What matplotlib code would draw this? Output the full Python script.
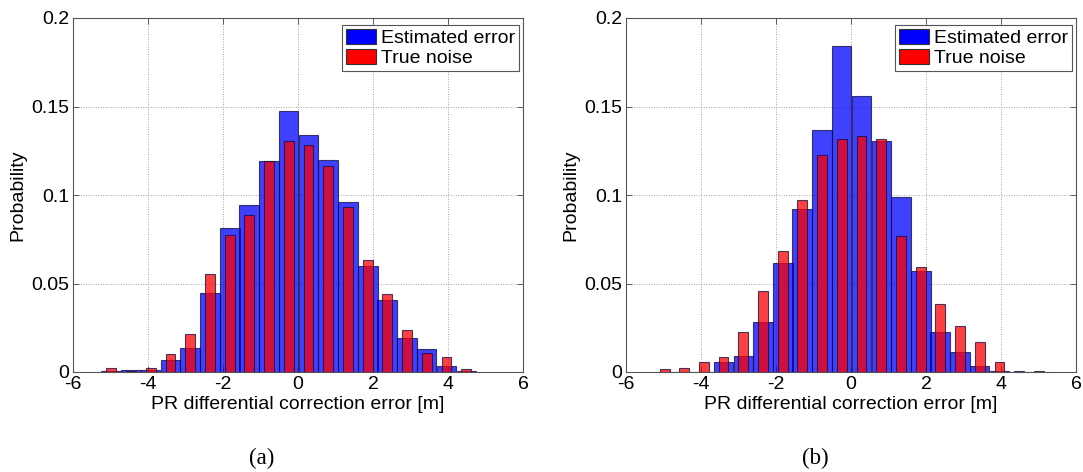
import matplotlib
matplotlib.use("Agg")
import matplotlib.pyplot as plt
from matplotlib.patches import Patch

plt.rcParams['font.family'] = ['Liberation Sans', 'DejaVu Sans']

# ---- data (a) ----
centers_a = [-4.98, -4.45, -3.93, -3.40, -2.88, -2.35, -1.82, -1.30, -0.77, -0.25,
             0.28, 0.80, 1.33, 1.86, 2.38, 2.91, 3.43, 3.96, 4.49]
est_a = [0.0008, 0.0013, 0.0013, 0.0070, 0.0138, 0.0446, 0.0813, 0.0943, 0.1193, 0.1476,
         0.1340, 0.1199, 0.0958, 0.0597, 0.0405, 0.0191, 0.0132, 0.0034, 0.0008]
true_a = [0.0021, 0.0008, 0.0021, 0.0104, 0.0216, 0.0554, 0.0773, 0.0885, 0.1193, 0.1304,
          0.1282, 0.1166, 0.0934, 0.0631, 0.0440, 0.0240, 0.0110, 0.0087, 0.0019]

# ---- data (b) ----
centers_b = [-4.97, -4.45, -3.92, -3.40, -2.87, -2.35, -1.82, -1.30, -0.77, -0.25,
             0.28, 0.81, 1.33, 1.86, 2.38, 2.91, 3.43, 3.96, 4.48, 5.01]
est_b = [0.0, 0.0, 0.0, 0.0059, 0.0091, 0.0284, 0.0617, 0.0920, 0.1369, 0.1841,
         0.1559, 0.1307, 0.0989, 0.0570, 0.0225, 0.0114, 0.0034, 0.0004, 0.0, 0.0]
true_b = [0.0015, 0.0023, 0.0059, 0.0085, 0.0225, 0.0455, 0.0682, 0.0972, 0.1227, 0.1318,
          0.1331, 0.1318, 0.0771, 0.0593, 0.0386, 0.0261, 0.0170, 0.0059, 0.0008, 0.0008]

bin_width = 0.526
x_ticks = [-6, -4, -2, 0, 2, 4, 6]
y_ticks = [0, 0.05, 0.1, 0.15, 0.2]
y_tick_labels = ['0', '0.05', '0.1', '0.15', '0.2']
series_names = ['Estimated error', 'True noise']
xlabel = 'PR differential correction error [m]'
ylabel = 'Probability'
panel_labels = ['(a)', '(b)']

W, H = 1083, 472
fig = plt.figure(figsize=(W / 100, H / 100), dpi=100)

axes_px = [(73, 18, 523, 372), (626, 18, 1076, 372)]
data = [(centers_a, est_a, true_a), (centers_b, est_b, true_b)]
panel_x = [262, 815]

blue_face = (0, 0, 1, 0.75)
red_face = (1, 0, 0, 0.75)
edge = (0.05, 0.05, 0.25, 0.75)
FS = 14

for (x0, y0, x1, y1), (c, e, t), px, pl in zip(axes_px, data, panel_x, panel_labels):
    ax = fig.add_axes([x0 / W, 1 - y1 / H, (x1 - x0) / W, (y1 - y0) / H])
    ax.bar(c, e, width=bin_width, color=blue_face, edgecolor=edge, linewidth=0.8, zorder=2)
    ax.bar(c, t, width=bin_width / 2, color=red_face, edgecolor=edge, linewidth=0.8, zorder=3)
    ax.set_xlim(-6, 6)
    ax.set_ylim(0, 0.2)
    ax.set_xticks(x_ticks)
    ax.set_xticklabels([str(v) for v in x_ticks])
    ax.set_yticks(y_ticks)
    ax.set_yticklabels(y_tick_labels)
    ax.tick_params(direction='in', length=4, width=0.6, labelsize=FS, colors='#444444',
                   labelcolor='black', top=True, right=True)
    ax.tick_params(axis='y', pad=2.5)
    ax.tick_params(axis='x', pad=3)
    ax.grid(True, linestyle=(0, (1, 2)), color='#888888', linewidth=0.6, zorder=0)
    ax.set_axisbelow(True)
    for s in ax.spines.values():
        s.set_color('#555555')
        s.set_linewidth(0.8)
    ax.set_xlabel(xlabel, fontsize=FS)
    ax.xaxis.set_label_coords(0.5, -0.068)
    ax.set_ylabel(ylabel, fontsize=FS)
    ax.yaxis.set_label_coords(-0.103, 0.5)
    handles = [Patch(facecolor='#0000ff', edgecolor='#333333', linewidth=0.8),
               Patch(facecolor='#ff0000', edgecolor='#333333', linewidth=0.8)]
    leg = ax.legend(handles, series_names, loc='upper right',
                    bbox_to_anchor=(0.991, 0.980), borderaxespad=0, fontsize=FS,
                    fancybox=False, framealpha=1, edgecolor='#555555',
                    borderpad=0.2, handlelength=1.55, handleheight=0.8,
                    handletextpad=0.25, labelspacing=0.1)
    leg.get_frame().set_linewidth(0.8)
    fig.text(px / W, 1 - 458 / H, pl, ha='center', va='center', fontsize=16.5,
             family=['Liberation Serif', 'DejaVu Serif'])

fig.savefig('out.png', dpi=100)
